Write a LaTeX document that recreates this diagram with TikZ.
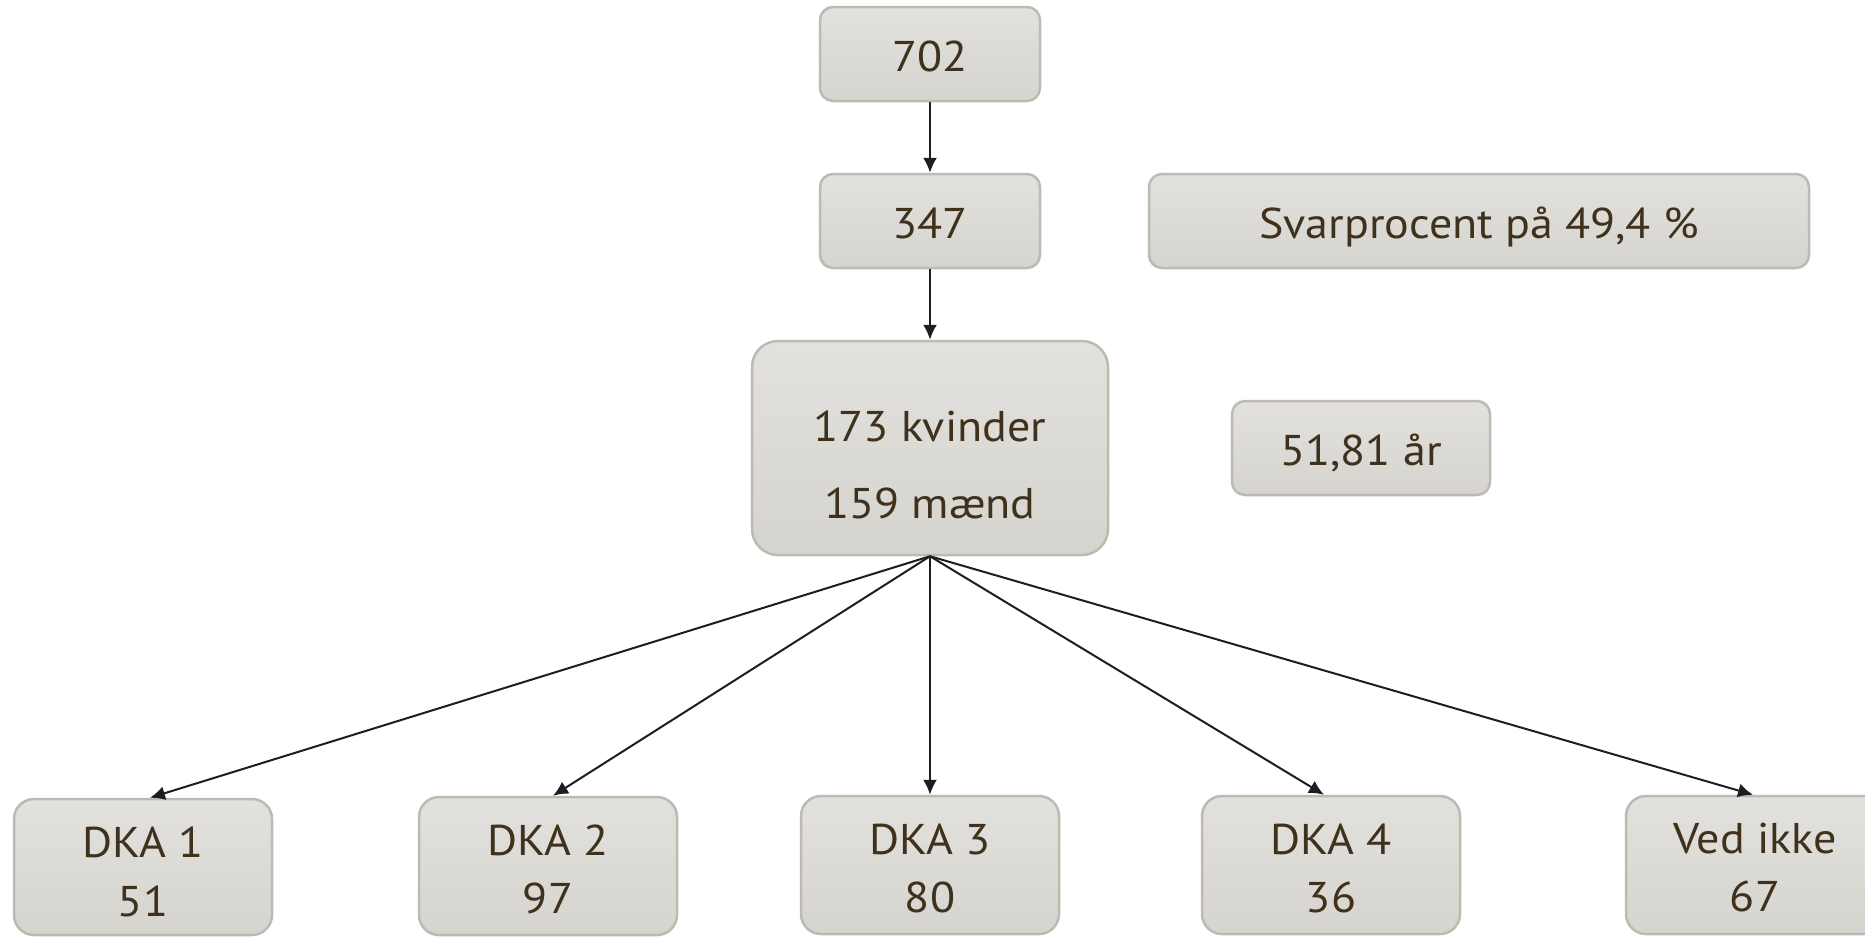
\documentclass[tikz,border=0pt]{standalone}
\usepackage{fontspec}
\setmainfont{PT Sans}[FakeStretch=1.07]
\usetikzlibrary{arrows.meta}
\definecolor{txtc}{HTML}{3F311C}
\definecolor{fillt}{HTML}{E2E1DD}
\definecolor{fillb}{HTML}{D5D4CF}
\definecolor{bordc}{HTML}{BDBAB2}
\definecolor{arrc}{HTML}{1E1E1E}
\begin{document}
\begin{tikzpicture}[x=1pt,y=-1pt,
  box/.style={draw=bordc, line width=2.5pt, rounded corners=13pt,
    top color=fillt, bottom color=fillb, inner sep=0pt,
    font=\fontsize{43}{52}\selectfont, text=txtc,
    text height=34pt, text depth=0pt},
  txt/.style={inner sep=0pt, anchor=base, font=\fontsize{43}{52}\selectfont, text=txtc},
  arr/.style={draw=arrc, line width=2pt, -{Latex[length=15pt,width=14pt]}}]
\useasboundingbox (0,0) rectangle (1865,937);
% top chain
\node[box, minimum width=220pt, minimum height=94pt] (n702) at (930,54) {702};
\node[box, minimum width=220pt, minimum height=94pt] (n347) at (930,221) {347};
\node[box, minimum width=660pt, minimum height=94pt] (svar) at (1479,221) {Svarprocent på 49,4 \%};
\node[box, minimum width=356pt, minimum height=214pt, rounded corners=26pt] (c) at (930,448) {};
\node[txt] (c1) at (930,441) {173 kvinder};
\node[txt] (c2) at (930,518) {159 mænd};
\node[box, minimum width=258pt, minimum height=94pt] (alder) at (1361,448) {51,81 år};
% bottom row
\node[box, minimum width=258pt, minimum height=136pt, rounded corners=20pt] (d1) at (143,867) {};
\node[box, minimum width=258pt, minimum height=138pt, rounded corners=20pt] (d2) at (548,866) {};
\node[box, minimum width=258pt, minimum height=138pt, rounded corners=20pt] (d3) at (930,865) {};
\node[box, minimum width=258pt, minimum height=138pt, rounded corners=20pt] (d4) at (1331,865) {};
\node[box, minimum width=258pt, minimum height=138pt, rounded corners=20pt] (d5) at (1755,865) {};
\node[txt] (d1a) at (143,857) {DKA 1};
\node[txt] (d1b) at (143,916) {51};
\node[txt] (d2a) at (548,855) {DKA 2};
\node[txt] (d2b) at (548,913) {97};
\node[txt] (d3a) at (930,854) {DKA 3};
\node[txt] (d3b) at (930,912) {80};
\node[txt] (d4a) at (1331,854) {DKA 4};
\node[txt] (d4b) at (1331,912) {36};
\node[txt] (d5a) at (1755,853) {Ved ikke};
\node[txt] (d5b) at (1755,911) {67};
% connectors
\draw[arr] (n702) -- (n347);
\draw[arr] (n347) -- (c);
\draw[arr] (c.south) -- ([xshift=7pt]d1.north);
\draw[arr] (c.south) -- ([xshift=5pt]d2.north);
\draw[arr] (c.south) -- (d3.north);
\draw[arr] (c.south) -- ([xshift=-7pt]d4.north);
\draw[arr] (c.south) -- ([xshift=-2pt]d5.north);
\end{tikzpicture}
\end{document}
